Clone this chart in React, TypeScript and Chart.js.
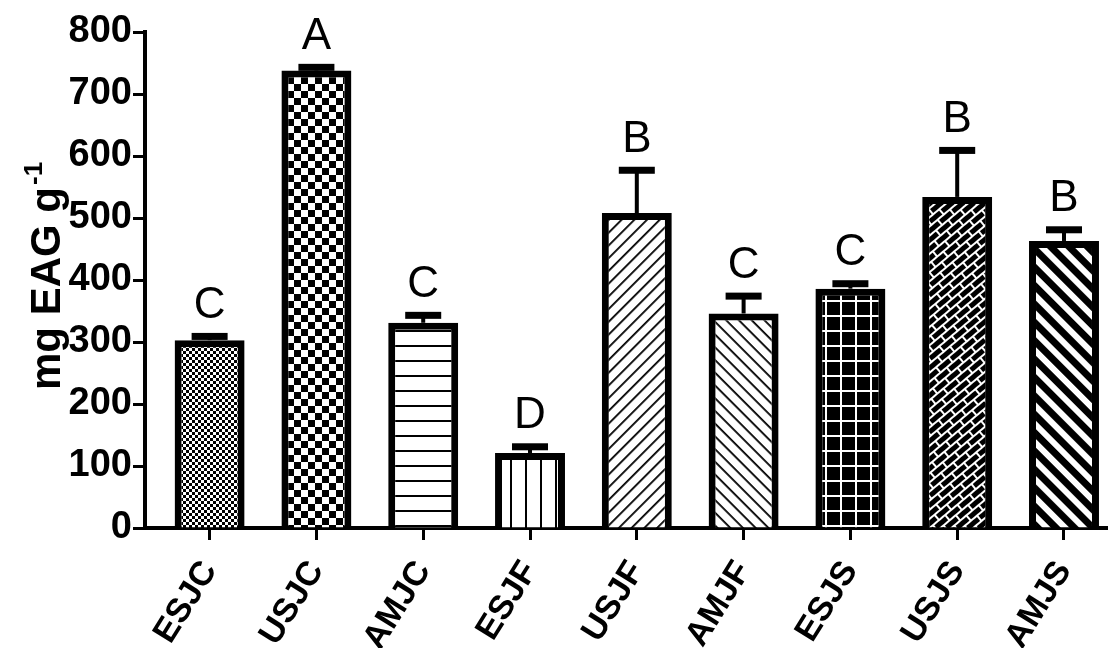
import React, { useEffect, useRef } from 'react';
import { Chart, registerables } from 'chart.js';

Chart.register(...registerables);

const categories = ['ESJC', 'USJC', 'AMJC', 'ESJF', 'USJF', 'AMJF', 'ESJS', 'USJS', 'AMJS'];
const means = [303, 738, 331, 121, 508, 346, 386, 534, 463];
const errors = [6, 5, 12, 10, 69, 28, 8, 75, 18];
const letters = ['C', 'A', 'C', 'D', 'B', 'C', 'C', 'B', 'B'];
const yMin = 0;
const yMax = 800;
const yStep = 100;
const yTitleMain = 'mg EAG g';
const yTitleSup = '-1';

const FONT = '"Liberation Sans", Arial, Helvetica, sans-serif';

function tile(w: number, h: number, draw: (c: CanvasRenderingContext2D) => void) {
  const cv = document.createElement('canvas');
  cv.width = w;
  cv.height = h;
  const c = cv.getContext('2d') as CanvasRenderingContext2D;
  draw(c);
  return cv;
}

function makePatterns(ctx: CanvasRenderingContext2D) {
  const mk = (cv: HTMLCanvasElement, rot?: number) => {
    const p = ctx.createPattern(cv, 'repeat') as CanvasPattern;
    if (rot) p.setTransform(new DOMMatrix().rotate(rot));
    return p;
  };
  const fineChecker = tile(6, 6, (c) => {
    c.fillStyle = '#fff'; c.fillRect(0, 0, 6, 6);
    c.fillStyle = '#000'; c.fillRect(0, 0, 3, 3); c.fillRect(3, 3, 3, 3);
  });
  const bigChecker = tile(14, 14, (c) => {
    c.fillStyle = '#fff'; c.fillRect(0, 0, 14, 14);
    c.fillStyle = '#000'; c.fillRect(0, 0, 7, 7); c.fillRect(7, 7, 7, 7);
  });
  const hLines = tile(15, 15, (c) => {
    c.fillStyle = '#fff'; c.fillRect(0, 0, 15, 15);
    c.fillStyle = '#000'; c.fillRect(0, 0, 15, 2);
  });
  const vLines = tile(15, 15, (c) => {
    c.fillStyle = '#fff'; c.fillRect(0, 0, 15, 15);
    c.fillStyle = '#000'; c.fillRect(0, 0, 2, 15);
  });
  const thin = tile(9, 9, (c) => {
    c.fillStyle = '#fff'; c.fillRect(0, 0, 9, 9);
    c.fillStyle = '#000'; c.fillRect(0, 0, 9, 1.8);
  });
  const grid = tile(15, 15, (c) => {
    c.fillStyle = '#000'; c.fillRect(0, 0, 15, 15);
    c.fillStyle = '#fff'; c.fillRect(0, 0, 15, 2); c.fillRect(0, 0, 2, 15);
  });
  const bricks = tile(16, 14, (c) => {
    c.fillStyle = '#000'; c.fillRect(0, 0, 16, 14);
    c.fillStyle = '#fff';
    c.fillRect(0, 0, 16, 2); c.fillRect(0, 7, 16, 2);
    c.fillRect(0, 0, 2, 7); c.fillRect(8, 7, 2, 7);
  });
  const thick = tile(13, 13, (c) => {
    c.fillStyle = '#fff'; c.fillRect(0, 0, 13, 13);
    c.fillStyle = '#000'; c.fillRect(0, 0, 13, 7);
  });
  return [
    mk(fineChecker),
    mk(bigChecker),
    mk(hLines),
    mk(vLines),
    mk(thin, -45),
    mk(thin, 45),
    mk(grid),
    mk(bricks, -40),
    mk(thick, 45),
  ];
}

const annotPlugin = {
  id: 'annot',
  afterDatasetsDraw(chart: any) {
    const ctx = chart.ctx as CanvasRenderingContext2D;
    const meta = chart.getDatasetMeta(0);
    const ys = chart.scales.y;
    ctx.save();
    ctx.fillStyle = '#000';
    meta.data.forEach((bar: any, i: number) => {
      const x = bar.x;
      const top = ys.getPixelForValue(means[i]);
      const et = ys.getPixelForValue(means[i] + errors[i]);
      ctx.fillRect(x - 2, et, 4, top - et);
      ctx.fillRect(x - 18, et - 3.5, 36, 7);
      ctx.font = `44px ${FONT}`;
      ctx.textAlign = 'center';
      ctx.textBaseline = 'alphabetic';
      ctx.fillText(letters[i], x, et - 3.5 - 15);
    });
    ctx.restore();
  },
  afterDraw(chart: any) {
    const ctx = chart.ctx as CanvasRenderingContext2D;
    ctx.save();
    ctx.fillStyle = '#000';
    ctx.translate(60, 390);
    ctx.rotate(-Math.PI / 2);
    ctx.font = `bold 42px ${FONT}`;
    ctx.textAlign = 'left';
    ctx.textBaseline = 'alphabetic';
    ctx.fillText(yTitleMain, 0, 0);
    const w = ctx.measureText(yTitleMain).width;
    ctx.font = `bold 26px ${FONT}`;
    ctx.fillText(yTitleSup, w + 2, -18);
    ctx.restore();
  },
};

export default function App() {
  const ref = useRef<HTMLCanvasElement>(null);
  useEffect(() => {
    const canvas = ref.current as HTMLCanvasElement;
    const ctx = canvas.getContext('2d') as CanvasRenderingContext2D;
    const patterns = makePatterns(ctx);
    const chart = new Chart(canvas, {
      type: 'bar',
      data: {
        datasets: [
          {
            data: categories.map((c, i) => ({ x: i, y: means[i] })),
            backgroundColor: patterns as any,
            borderColor: '#000',
            borderWidth: 7,
            categoryPercentage: 1,
            barPercentage: 0.655,
          },
        ],
      },
      options: {
        responsive: false,
        animation: false,
        devicePixelRatio: 1,
        layout: { padding: { top: 32, right: 0, left: 0, bottom: 0 } },
        plugins: { legend: { display: false }, tooltip: { enabled: false } },
        scales: {
          x: {
            type: 'linear',
            offset: false,
            min: -0.605,
            max: 8.412,
            z: 1,
            afterBuildTicks: (s: any) => {
              s.ticks = categories.map((_, i) => ({ value: i }));
            },
            afterFit: (s: any) => {
              s.height = 120;
              s.paddingLeft = 0;
              s.paddingRight = 0;
            },
            border: { display: true, color: '#000', width: 4 },
            grid: { display: true, offset: false, drawOnChartArea: false, drawTicks: true, tickLength: 12, tickWidth: 3, tickColor: '#000', color: '#000' },
            ticks: {
              autoSkip: false,
              minRotation: 58,
              maxRotation: 58,
              padding: 14,
              color: '#000',
              font: { family: FONT, size: 34, weight: 'bold' },
              callback: (v: any) => categories[Math.round(v)] ?? '',
            },
          },
          y: {
            min: yMin,
            max: yMax,
            afterFit: (s: any) => {
              s.width = 145;
            },
            border: { display: true, color: '#000', width: 4 },
            grid: { display: true, drawOnChartArea: false, drawTicks: true, tickLength: 12, tickWidth: 3, tickColor: '#000', color: '#000' },
            ticks: {
              stepSize: yStep,
              padding: 1,
              color: '#000',
              font: { family: FONT, size: 38, weight: 'bold' },
            },
          },
        },
      },
      plugins: [annotPlugin],
    } as any);
    return () => chart.destroy();
  }, []);
  return (
    <div style={{ position: 'absolute', left: 0, top: 0, width: 1108, height: 648, background: '#fff' }}>
      <canvas ref={ref} width={1108} height={648} style={{ display: 'block' }} />
    </div>
  );
}
